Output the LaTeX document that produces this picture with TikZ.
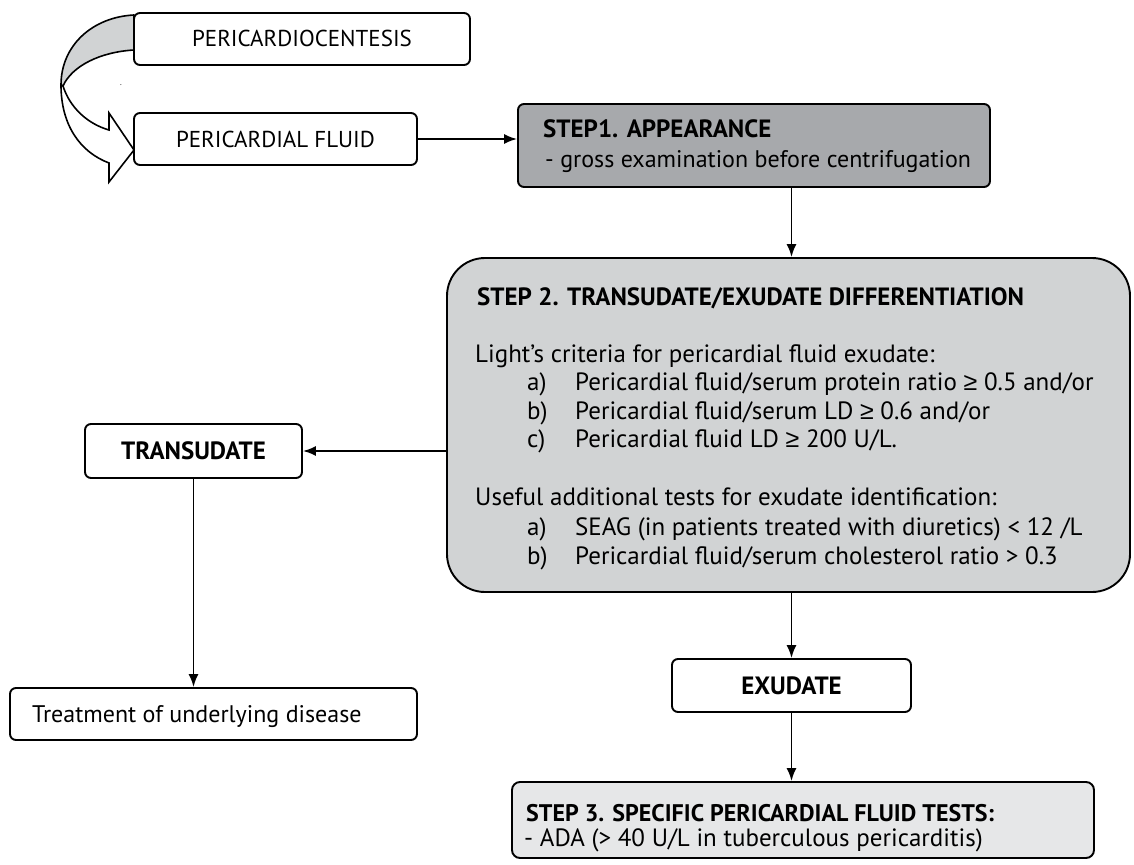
\documentclass[tikz,border=0pt]{standalone}
\usepackage{fontspec}
\setmainfont{PT Sans}
\newfontfamily\symf{Liberation Sans}
\newcommand{\geqs}{{\symf ≥}}
\usetikzlibrary{arrows.meta}
\definecolor{gdark}{HTML}{A7A9AC}
\definecolor{gmid}{HTML}{D1D3D4}
\definecolor{glight}{HTML}{E6E7E8}
\begin{document}
\begin{tikzpicture}[x=1pt,y=-1pt,
  box/.style={draw, line width=1.9pt, rounded corners=6pt, inner sep=0pt},
  txt/.style={font=\fontsize{23}{28}\selectfont, inner sep=0pt},
  mtxt/.style={font=\fontsize{24}{28}\selectfont, inner sep=0pt},
  stxt/.style={font=\fontsize{25}{28}\selectfont, inner sep=0pt},
  btxt/.style={font=\fontsize{25}{28}\selectfont\bfseries, inner sep=0pt},
  lt/.style={stxt, anchor=base west},
  mlt/.style={mtxt, anchor=base west},
  blt/.style={btxt, anchor=base west},
  arr/.style={line width=1.8pt, -{Latex[length=13pt,width=10pt]}}]
\useasboundingbox (0,0) rectangle (1134,864);

% curved arrow
\draw[line width=1.6pt, fill=gmid, line join=round]
  (134,15) .. controls (93,17) and (61,45) .. (61,85)
  -- (63,86) .. controls (72,66) and (100,52) .. (134,50) -- cycle;
\draw[line width=1.6pt, fill=white, line join=miter]
  (61,85) .. controls (61,125) and (80,152) .. (109,163)
  -- (109,182) -- (134,150) -- (109,113) -- (109,130)
  .. controls (88,124) and (70,108) .. (63,86) -- cycle;
\node[inner sep=0pt, font=\fontsize{8}{8}\selectfont] (dot) at (121,85) {.};

% boxes
\node[box, minimum width=336pt, minimum height=52pt, txt, text height=16pt, text depth=0pt] (pc) at (302,39) {PERICARDIOCENTESIS};
\node[box, minimum width=283pt, minimum height=52pt, txt, text height=16pt, text depth=0pt] (pf) at (275.5,139) {PERICARDIAL FLUID};
\node[box, fill=gdark, minimum width=472pt, minimum height=83pt] (s1) at (754,145.5) {};
\node[blt] (s1a) at (543,137) {STEP1. APPEARANCE};
\node[mlt] (s1b) at (545,167) {- gross examination before centrifugation};

\node[box, fill=gmid, rounded corners=38pt, minimum width=683pt, minimum height=334pt] (s2) at (788.5,425) {};
\node[blt] (t0) at (477,305) {STEP 2. TRANSUDATE/EXUDATE DIFFERENTIATION};
\node[lt] (t1) at (475,362) {Light’s criteria for pericardial fluid exudate:};
\node[lt] (t2a) at (527,390) {a)};
\node[lt] (t2) at (575,390) {Pericardial fluid/serum protein ratio \geqs{} 0.5 and/or};
\node[lt] (t3a) at (527,419) {b)};
\node[lt] (t3) at (575,419) {Pericardial fluid/serum LD \geqs{} 0.6 and/or};
\node[lt] (t4a) at (527,447) {c)};
\node[lt] (t4) at (575,447) {Pericardial fluid LD \geqs{} 200 U/L.};
\node[lt] (t5) at (475,505) {Useful additional tests for exudate identification:};
\node[lt] (t6a) at (527,535) {a)};
\node[lt] (t6) at (575,535) {SEAG (in patients treated with diuretics) < 12 /L};
\node[lt] (t7a) at (527,564) {b)};
\node[lt] (t7) at (575,564) {Pericardial fluid/serum cholesterol ratio > 0.3};

\node[box, minimum width=217pt, minimum height=54pt, btxt, text height=17pt, text depth=0pt] (tr) at (193.5,451) {TRANSUDATE};
\node[box, minimum width=407pt, minimum height=52pt] (tt) at (213.5,714) {};
\node[mlt] (ttx) at (32,722) {Treatment of underlying disease};
\node[box, minimum width=239pt, minimum height=53pt, btxt, text height=17pt, text depth=0pt] (ex) at (791.5,685.5) {EXUDATE};
\node[box, fill=glight, rounded corners=8pt, minimum width=582pt, minimum height=76pt] (s3) at (803,820) {};
\node[blt, font=\fontsize{24}{28}\selectfont\bfseries] (s3a) at (526,821) {STEP 3. SPECIFIC PERICARDIAL FLUID TESTS:};
\node[lt] (s3b) at (524,846) {- ADA (> 40 U/L in tuberculous pericarditis)};

% connectors
\draw[arr] (pf.east) -- (s1.west |- pf.east);
\draw[arr] (s1.south -| ex.north) -- (s2.north -| ex.north);
\draw[arr] (s2.west |- tr.east) -- (tr.east);
\draw[arr] (tr.south) -- (tr.south |- tt.north);
\draw[arr] (s2.south -| ex.north) -- (ex.north);
\draw[arr] (ex.south) -- (s3.north -| ex.south);
\end{tikzpicture}
\end{document}
